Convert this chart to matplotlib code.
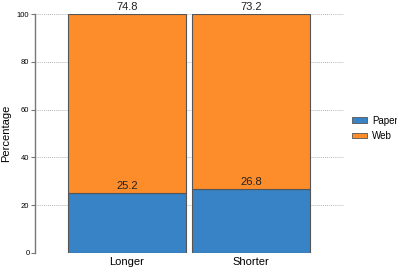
import matplotlib
matplotlib.use("Agg")
import matplotlib.pyplot as plt
from matplotlib.patches import Patch

categories = ["Longer", "Shorter"]
paper = [25.2, 26.8]
web = [74.8, 73.2]
yticks = [0, 20, 40, 60, 80, 100]

plt.rcParams['font.family'] = ['Liberation Sans', 'DejaVu Sans']

fig = plt.figure(figsize=(3.97, 2.70), dpi=100)
ax = fig.add_axes([0.088, 0.063, 0.778, 0.885])

blue = "#3783c5"
orange = "#fd8c2b"
x = list(range(len(categories)))
w = 0.95
ax.bar(x, paper, width=w, color=blue, edgecolor="#555555", linewidth=0.8, zorder=3)
ax.bar(x, web, width=w, bottom=paper, color=orange, edgecolor="#555555", linewidth=0.8, zorder=3)

for i in x:
    ax.text(i, paper[i] + 0.8, f"{paper[i]:.1f}", ha="center", va="bottom", fontsize=8, color="#222222", zorder=4)
    ax.text(i, paper[i] + web[i] + 0.8, f"{web[i]:.1f}", ha="center", va="bottom", fontsize=8, color="#222222", clip_on=False)

ax.set_xlim(-0.742, 1.75)
ax.set_ylim(0, 100)
ax.set_yticks(yticks)
ax.set_yticklabels([str(t) for t in yticks], fontsize=5.5)
ax.set_xticks(x)
ax.set_xticklabels(categories, fontsize=8)
ax.tick_params(axis="x", length=0, pad=3)
ax.tick_params(axis="y", length=3, width=0.8, color="#777777", pad=1)
ax.yaxis.grid(True, linestyle=(0, (1, 1.5)), color="#999999", linewidth=0.6, zorder=0)
for s in ["top", "right", "bottom"]:
    ax.spines[s].set_visible(False)
ax.spines["left"].set_color("#777777")
ax.spines["left"].set_linewidth(1.0)
ax.set_ylabel("Percentage", fontsize=8, labelpad=4)

handles = [Patch(facecolor=blue, edgecolor="#555555", linewidth=0.6, label="Paper"),
           Patch(facecolor=orange, edgecolor="#555555", linewidth=0.6, label="Web")]
fig.legend(handles=handles, loc="center left", bbox_to_anchor=(0.886, 0.525), frameon=False,
           fontsize=7, handlelength=1.6, handleheight=0.5, handletextpad=0.5, labelspacing=0.55,
           borderaxespad=0, borderpad=0)

fig.savefig("out.png", dpi=100)
